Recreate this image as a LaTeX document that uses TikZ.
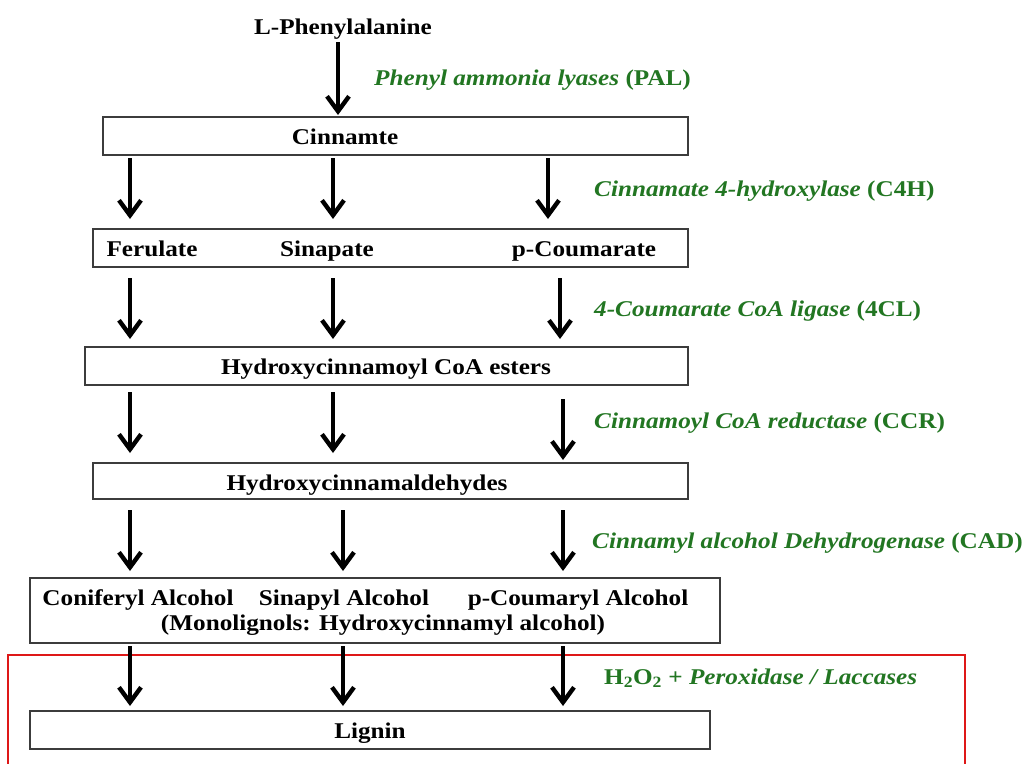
\documentclass[tikz,border=0pt]{standalone}
\usepackage{fontspec}
\setmainfont{Liberation Serif}[FakeStretch=1.12]
\usetikzlibrary{arrows.meta}
\definecolor{enz}{RGB}{34,118,34}
\definecolor{redbox}{RGB}{222,24,24}
\definecolor{boxline}{RGB}{60,60,60}
\tikzset{
  stepbox/.style={draw=boxline, line width=1.4pt, inner sep=0pt},
  lbl/.style={font=\fontsize{22.5}{26}\selectfont\bfseries, text=black, inner sep=0pt, text height=18pt, text depth=3.2pt},
  enzlbl/.style={font=\fontsize{22.5}{26}\selectfont\bfseries, text=enz, anchor=west, inner sep=0pt, text height=18pt, text depth=3.2pt},
  arr/.style={line width=4pt, -{Straight Barb[length=15pt,width=22pt,line width=4.4pt]}},
}
\begin{document}
\begin{tikzpicture}[x=1pt,y=-1pt]
\useasboundingbox (0,0) rectangle (1027,763);
\fill[white] (0,0) rectangle (1027,763);

% boxes
\node[stepbox, minimum width=585, minimum height=38] (b1) at (395.5,136) {};
\node[stepbox, minimum width=595, minimum height=38] (b2) at (390.5,248) {};
\node[stepbox, minimum width=603, minimum height=38] (b3) at (386.5,366) {};
\node[stepbox, minimum width=595, minimum height=36] (b4) at (390.5,481) {};
\node[stepbox, minimum width=690, minimum height=65] (b5) at (375,610.5) {};
\node[stepbox, minimum width=680, minimum height=38] (b6) at (370,730) {};

% red frame (bottom edge outside the picture)
\node[draw=redbox, line width=2.4pt, minimum width=957, minimum height=120, inner sep=0pt] (red) at (486.5,715) {};

% texts
\node[lbl] (t0) at (343,27) {L-Phenylalanine};
\node[lbl] (t1) at (345,137) {Cinnamte};
\node[lbl] (t2a) at (152,249) {Ferulate};
\node[lbl] (t2b) at (327,249) {Sinapate};
\node[lbl] (t2c) at (584,249) {p-Coumarate};
\node[lbl] (t3) at (386,367) {Hydroxycinnamoyl CoA esters};
\node[lbl] (t4) at (367,483) {Hydroxycinnamaldehydes};
\node[lbl] (t5a) at (138,598) {Coniferyl Alcohol};
\node[lbl] (t5b) at (344,598) {Sinapyl Alcohol};
\node[lbl] (t5c) at (578,598) {p-Coumaryl Alcohol};
\node[lbl] (t5d) at (383,623) {(Monolignols: Hydroxycinnamyl alcohol)};
\node[lbl] (t6) at (370,731) {Lignin};

% enzyme labels
\node[enzlbl] (e1) at (374,78) {\textit{Phenyl ammonia lyases} (PAL)};
\node[enzlbl] (e2) at (594,189) {\textit{Cinnamate 4-hydroxylase} (C4H)};
\node[enzlbl] (e3) at (594,309) {\textit{4-Coumarate CoA ligase} (4CL)};
\node[enzlbl] (e4) at (594,421) {\textit{Cinnamoyl CoA reductase} (CCR)};
\node[enzlbl] (e5) at (592,541) {\textit{Cinnamyl alcohol Dehydrogenase} (CAD)};
\node[enzlbl] (e6) at (604,677) {H\textsubscript{2}O\textsubscript{2} + \textit{Peroxidase / Laccases}};

% arrow endpoints
\coordinate (p0s) at (338,42);  \coordinate (p0e) at (338,115);
\coordinate (p1as) at (130,158); \coordinate (p1ae) at (130,219);
\coordinate (p1bs) at (333,158); \coordinate (p1be) at (333,219);
\coordinate (p1cs) at (548,158); \coordinate (p1ce) at (548,219);
\coordinate (p2as) at (130,278); \coordinate (p2ae) at (130,339);
\coordinate (p2bs) at (333,278); \coordinate (p2be) at (333,339);
\coordinate (p2cs) at (560,278); \coordinate (p2ce) at (560,339);
\coordinate (p3as) at (130,392); \coordinate (p3ae) at (130,453);
\coordinate (p3bs) at (333,392); \coordinate (p3be) at (333,453);
\coordinate (p3cs) at (563,399); \coordinate (p3ce) at (563,460);
\coordinate (p4as) at (130,510); \coordinate (p4ae) at (130,571);
\coordinate (p4bs) at (343,510); \coordinate (p4be) at (343,571);
\coordinate (p4cs) at (563,510); \coordinate (p4ce) at (563,571);
\coordinate (p5as) at (130,646); \coordinate (p5ae) at (130,706);
\coordinate (p5bs) at (343,646); \coordinate (p5be) at (343,706);
\coordinate (p5cs) at (563,646); \coordinate (p5ce) at (563,706);

\draw[arr] (p0s) -- (p0e);
\foreach \r in {1,...,5}{
  \foreach \c in {a,b,c}{
    \draw[arr] (p\r\c s) -- (p\r\c e);
  }
}
\end{tikzpicture}
\end{document}
